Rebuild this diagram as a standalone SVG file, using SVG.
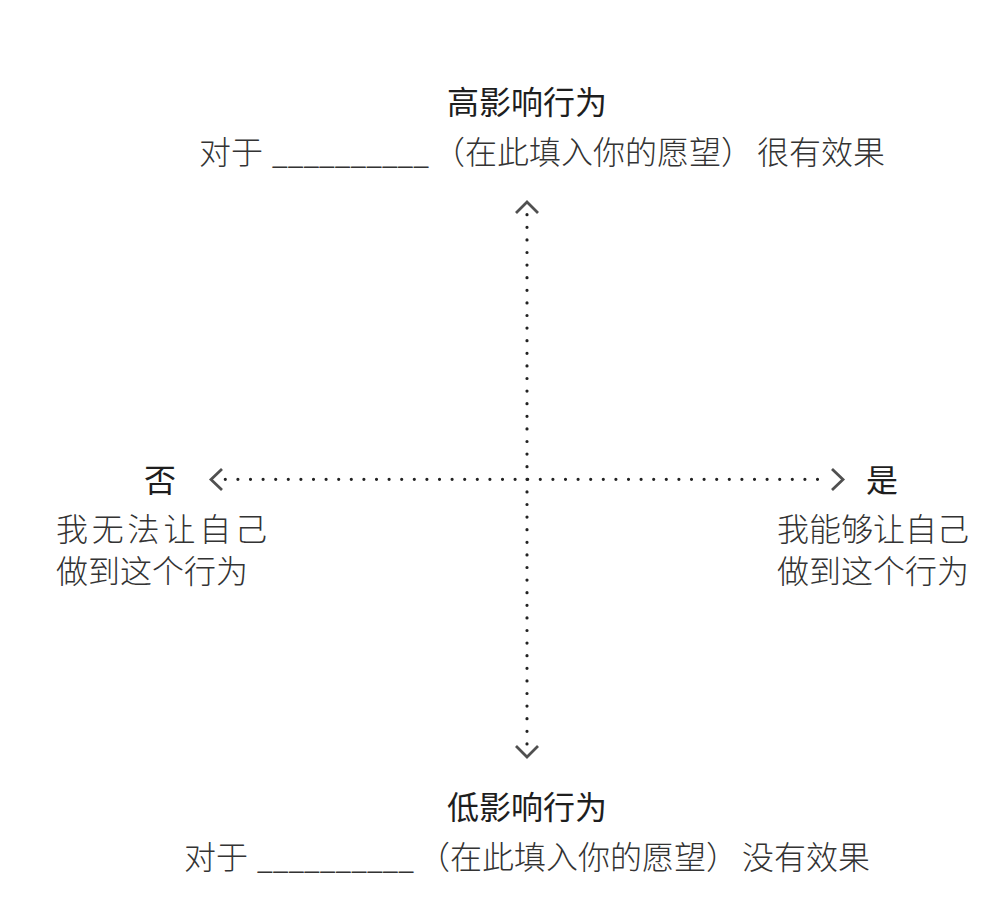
<svg xmlns="http://www.w3.org/2000/svg" width="1002" height="900" viewBox="0 0 1002 900">
<style>
.t{font-family:"Noto Sans CJK SC","Noto Sans",sans-serif;font-size:32px;fill:#2b2b2b}
.h{font-weight:400;fill:#1e1e1e}
.l{font-weight:300;fill:#333}
.dots{stroke:#222;stroke-width:3.2;stroke-linecap:round;stroke-dasharray:0 12.6;fill:none}
.chev{stroke:#505050;stroke-width:2.8;fill:none;stroke-linecap:butt;stroke-linejoin:miter}
</style>
<rect width="1002" height="900" fill="#fff"/>
<g id="connectors">
<line class="dots" x1="225.3" y1="479.3" x2="830.1" y2="479.3"/>
<line class="dots" x1="527" y1="214.7" x2="527" y2="743.9"/>
<polyline class="chev" points="516,213 527,202 538,213"/>
<polyline class="chev" points="516,746 527,757 538,746"/>
<polyline class="chev" points="222,469 211,479.5 222,490"/>
<polyline class="chev" points="832,469 843,479.5 832,490"/>
</g>
<g id="node-top">
<text class="t h" x="527" y="114" text-anchor="middle">高影响行为</text>
<text class="t l" y="164"><tspan x="199">对于 </tspan><tspan x="272" textLength="157" lengthAdjust="spacingAndGlyphs">__________</tspan><tspan x="433">（在此填入你的愿望）</tspan><tspan x="757">很有效果</tspan></text>
</g>
<g id="node-bottom">
<text class="t h" x="527" y="819" text-anchor="middle">低影响行为</text>
<text class="t l" y="869"><tspan x="184">对于 </tspan><tspan x="257" textLength="157" lengthAdjust="spacingAndGlyphs">__________</tspan><tspan x="418">（在此填入你的愿望）</tspan><tspan x="742">没有效果</tspan></text>
</g>
<g id="node-left">
<text class="t h" x="144" y="492">否</text>
<text class="t l" x="56" y="541" letter-spacing="3.8">我无法让自己</text>
<text class="t l" x="56" y="583">做到这个行为</text>
</g>
<g id="node-right">
<text class="t h" x="866" y="492">是</text>
<text class="t l" x="777" y="541">我能够让自己</text>
<text class="t l" x="777" y="583">做到这个行为</text>
</g>
</svg>
